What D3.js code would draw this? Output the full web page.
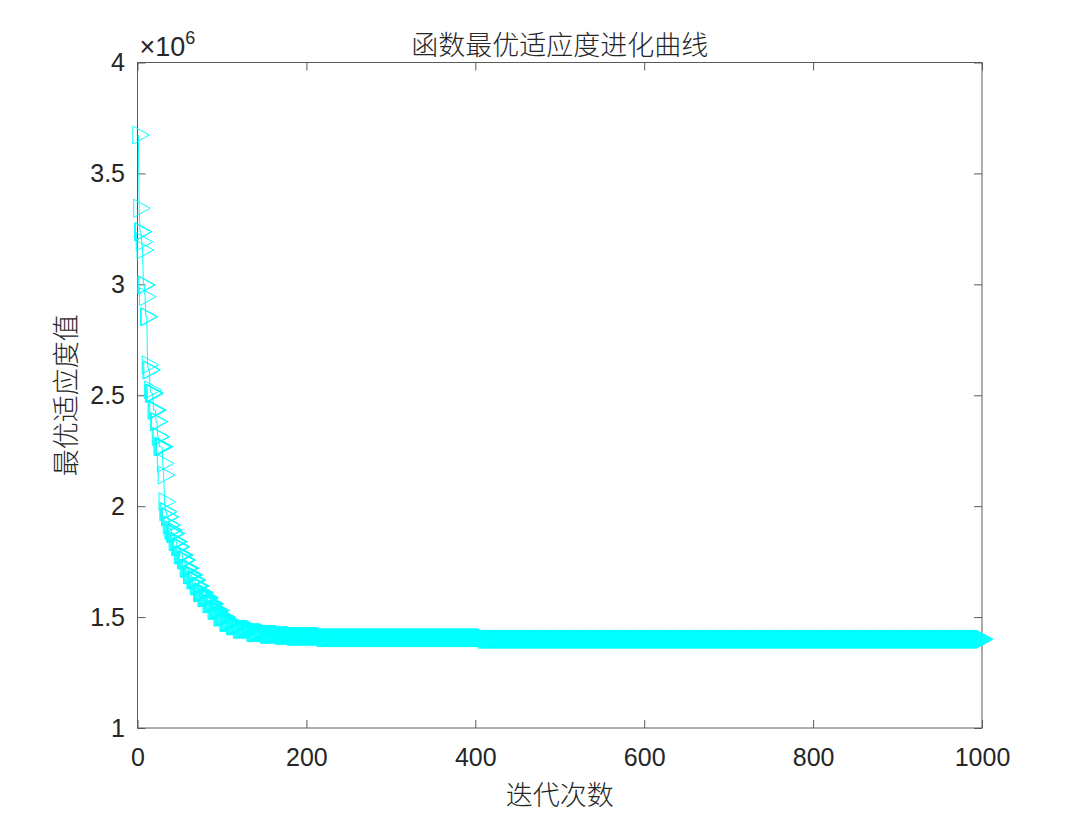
<!DOCTYPE html>
<html>
<head>
<meta charset="utf-8">
<script src="https://cdn.jsdelivr.net/npm/d3@7"></script>
<style>
  html, body { margin: 0; padding: 0; background: #ffffff; }
  svg { display: block; }
</style>
</head>
<body>
<div id="chart"></div>
<script>
// ---------- data ----------
const titleText = "函数最优适应度进化曲线";
const xLabelText = "迭代次数";
const yLabelText = "最优适应度值";
const iterCount = 1000;
// best-so-far fitness: iteration at which a new best value appears, and that value
const changeIters  = [1, 2, 3, 5, 6, 7, 9, 10, 12, 13, 15, 16, 19, 22, 24, 26, 30, 31, 32, 33, 35, 37, 39, 41, 44, 47, 50, 54, 57, 61, 65, 69, 73, 78, 84, 90, 97, 104, 112, 120, 136, 152, 170, 184, 219, 410];
const changeValues = [3673000, 3343000, 3237000, 3192000, 3155000, 2997000, 2944000, 2854000, 2637000, 2614000, 2524000, 2509000, 2433000, 2381000, 2313000, 2268000, 2193000, 2140000, 2020000, 1975000, 1952000, 1915000, 1892000, 1877000, 1840000, 1817000, 1780000, 1757000, 1720000, 1690000, 1667000, 1640000, 1610000, 1587000, 1560000, 1530000, 1500000, 1476000, 1460000, 1445000, 1430000, 1422000, 1417000, 1413000, 1407000, 1400000];
const xTicks = [0, 200, 400, 600, 800, 1000];
const yTicks = [1000000, 1500000, 2000000, 2500000, 3000000, 3500000, 4000000];
const yTickLabels = ["1", "1.5", "2", "2.5", "3", "3.5", "4"];

// expand the best-so-far record (value held until next improvement)
const series = [];
{
  let k = 0;
  for (let it = 1; it <= iterCount; it++) {
    while (k + 1 < changeIters.length && changeIters[k + 1] <= it) k++;
    series.push({ iter: it, value: changeValues[k] });
  }
}

// ---------- layout ----------
const W = 1080, H = 814;
const padL = 137.5, padR = 982, padT = 62.5, padB = 728;
const axisColor = "#262626";
const boxColor = "#5a5a5a";
const cyan = "#00ffff";
const numFont = "'Liberation Sans', Arial, Helvetica, sans-serif";
const cjkFont = "'Noto Sans CJK SC', 'Noto Sans CJK JP', sans-serif";

const svg = d3.select("#chart").append("svg")
  .attr("width", W).attr("height", H);

svg.append("rect").attr("width", W).attr("height", H).attr("fill", "#ffffff");

const x = d3.scaleLinear().domain([0, 1000]).range([padL, padR]);
const y = d3.scaleLinear().domain([1000000, 4000000]).range([padB, padT]);

function styleAxis(g) {
  g.select(".domain").remove();
  g.selectAll(".tick line").attr("stroke", boxColor).attr("stroke-width", 1);
  g.selectAll(".tick text")
    .attr("fill", axisColor)
    .style("font-family", numFont)
    .style("font-size", "25px");
}

// bottom axis
svg.append("g")
  .attr("transform", `translate(0,${padB})`)
  .call(d3.axisBottom(x).tickValues(xTicks).tickFormat(d3.format("d"))
        .tickSizeInner(-8).tickSizeOuter(0).tickPadding(20))
  .call(styleAxis);

// top axis (ticks only)
svg.append("g")
  .attr("transform", `translate(0,${padT})`)
  .call(d3.axisTop(x).tickValues(xTicks).tickFormat("")
        .tickSizeInner(-8).tickSizeOuter(0))
  .call(styleAxis);

// left axis
svg.append("g")
  .attr("transform", `translate(${padL},0)`)
  .call(d3.axisLeft(y).tickValues(yTicks)
        .tickFormat((d, i) => yTickLabels[i])
        .tickSizeInner(-8).tickSizeOuter(0).tickPadding(12.5))
  .call(styleAxis);

// right axis (ticks only)
svg.append("g")
  .attr("transform", `translate(${padR},0)`)
  .call(d3.axisRight(y).tickValues(yTicks).tickFormat("")
        .tickSizeInner(-8).tickSizeOuter(0))
  .call(styleAxis);

// box
svg.append("rect")
  .attr("x", padL).attr("y", padT)
  .attr("width", padR - padL).attr("height", padB - padT)
  .attr("fill", "none").attr("stroke", boxColor).attr("stroke-width", 1);

// exponent label
const expo = svg.append("text")
  .attr("x", padL + 2).attr("y", 56)
  .attr("fill", axisColor)
  .style("font-family", numFont)
  .style("font-size", "27px");
expo.append("tspan").text("×10");
expo.append("tspan").attr("dy", -12).style("font-size", "18px").text("6");

// line
const line = d3.line().x(d => x(d.iter)).y(d => y(d.value));
svg.append("path")
  .datum(series)
  .attr("d", line)
  .attr("fill", "none")
  .attr("stroke", cyan)
  .attr("stroke-width", 1);

// right-pointing triangle markers (centroid at data point)
const mw = 16.5, mh = 18;
function tri(d) {
  const cx = x(d.iter), cy = y(d.value);
  return `M${cx - mw / 3},${cy - mh / 2}L${cx + 2 * mw / 3},${cy}L${cx - mw / 3},${cy + mh / 2}Z`;
}
svg.append("g")
  .selectAll("path")
  .data(series)
  .join("path")
  .attr("d", tri)
  .attr("fill", "none")
  .attr("stroke", cyan)
  .attr("stroke-width", 1);

// title
svg.append("text")
  .attr("x", (padL + padR) / 2).attr("y", 43)
  .attr("text-anchor", "middle").attr("dominant-baseline", "central")
  .attr("fill", axisColor)
  .style("font-family", cjkFont).style("font-size", "27px").style("font-weight", 300)
  .text(titleText);

// x label
svg.append("text")
  .attr("x", (padL + padR) / 2).attr("y", 793)
  .attr("text-anchor", "middle").attr("dominant-baseline", "central")
  .attr("fill", axisColor)
  .style("font-family", cjkFont).style("font-size", "27px").style("font-weight", 300)
  .text(xLabelText);

// y label
svg.append("text")
  .attr("transform", `translate(64,${(padT + padB) / 2}) rotate(-90)`)
  .attr("text-anchor", "middle").attr("dominant-baseline", "central")
  .attr("fill", axisColor)
  .style("font-family", cjkFont).style("font-size", "27px").style("font-weight", 300)
  .text(yLabelText);
</script>
</body>
</html>
